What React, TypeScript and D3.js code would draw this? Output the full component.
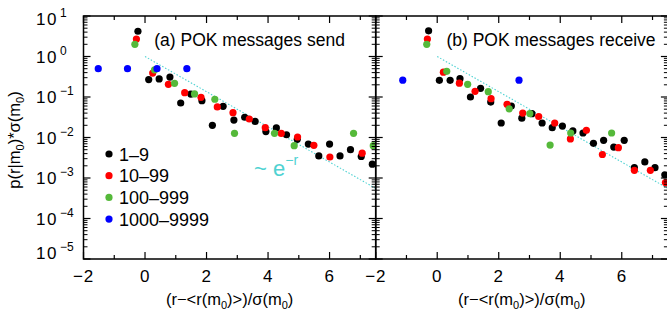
import * as d3 from 'd3';

// (a) POK messages send
const sendBlackR = [-0.23, 0.12, 0.46, 0.81, 1.16, 1.49, 1.85, 2.19, 2.54, 2.89, 3.24, 3.58, 3.93, 4.27, 4.6, 4.95, 5.31, 5.65, 6.0, 6.34, 6.68, 7.03, 7.39];
const sendBlackP = [4.2, 0.27, 0.28, 0.31, 0.071, 0.118, 0.081, 0.02, 0.059, 0.027, 0.0316, 0.025, 0.014, 0.0172, 0.0117, 0.009, 0.0069, 0.0035, 0.0069, 0.0035, 0.005, 0.0034, 0.0022];
const sendRedR = [-0.28, 0.25, 0.76, 1.29, 1.82, 2.35, 2.86, 3.39, 3.91, 4.43, 4.96, 5.49, 6.01, 7.06];
const sendRedP = [2.7, 0.39, 0.205, 0.128, 0.098, 0.057, 0.041, 0.0286, 0.0175, 0.0126, 0.0103, 0.0064, 0.0033, 0.0041];
const sendGreenR = [-0.33, 0.31, 0.96, 1.61, 2.27, 2.91, 4.21, 4.85, 6.78, 7.42];
const sendGreenP = [2.0, 0.47, 0.217, 0.119, 0.088, 0.0127, 0.0127, 0.0063, 0.0127, 0.0063];
const sendBlueR = [-1.52, -0.57, 0.39, 1.36];
const sendBlueP = [0.5, 0.5, 0.5, 0.5];

// (b) POK messages receive
const recvBlackR = [-0.28, 0.07, 0.42, 0.74, 1.08, 1.41, 1.74, 2.08, 2.41, 2.75, 3.08, 3.41, 3.74, 4.07, 4.41, 4.74, 5.08, 5.41, 5.74, 6.08, 6.41, 6.75, 7.08, 7.4];
const recvBlackP = [4.3, 0.258, 0.258, 0.283, 0.1, 0.164, 0.075, 0.0228, 0.06, 0.03, 0.0387, 0.0228, 0.0175, 0.0192, 0.0145, 0.0129, 0.0072, 0.0085, 0.0058, 0.0085, 0.0018, 0.0025, 0.0018, 0.0012];
const recvRedR = [-0.32, 0.2, 0.72, 1.23, 1.75, 2.27, 2.78, 3.3, 3.82, 4.33, 4.85, 5.37, 5.89, 6.41, 6.93, 7.42];
const recvRedP = [2.7, 0.41, 0.22, 0.138, 0.091, 0.066, 0.04, 0.033, 0.0228, 0.0092, 0.015, 0.0038, 0.0056, 0.00155, 0.00155, 0.00077];
const recvGreenR = [-0.34, 0.31, 0.99, 1.66, 2.34, 3.01, 3.67, 4.34, 5.67];
const recvGreenP = [2.0, 0.43, 0.206, 0.135, 0.051, 0.039, 0.0065, 0.0129, 0.0129];
const recvBlueR = [-1.12, 2.66];
const recvBlueP = [0.26, 0.26];

const legendLabels = ['1–9', '10–99', '100–999', '1000–9999'];
const colors = ['#000000', '#ff0000', '#55b93a', '#0000ff'];
const xTickValues = [-2, -1, 0, 1, 2, 3, 4, 5, 6, 7];
const yDecades = [-5, -4, -3, -2, -1, 0, 1];
const fitR = [0, 7.5]; // reference line ~ e^-r

const FONT = "'Liberation Sans', Arial, Helvetica, sans-serif";
const CYAN = '#4fd2d2';
const W = 667, H = 316;
const TOP = 16, BOTTOM = 259;

const y = d3.scaleLog().domain([1e-5, 10]).range([BOTTOM, TOP]);

type Series = { r: number[]; p: number[] };

function Panel({ id, x0, x1, title, series, yLabels }: {
  id: string; x0: number; x1: number; title: string; series: Series[]; yLabels: boolean;
}) {
  const x = d3.scaleLinear().domain([-2, 7.5]).range([x0, x1]);
  const minor: number[] = [];
  yDecades.slice(0, -1).forEach(d => {
    for (let k = 2; k <= 9; k++) minor.push(k * Math.pow(10, d));
  });
  const fit = d3.line<number>().x(r => x(r)).y(r => y(Math.exp(-r)));
  return (
    <g>
      <defs>
        <clipPath id={`clip-${id}`}>
          <rect x={x0} y={TOP} width={x1 - x0} height={BOTTOM - TOP} />
        </clipPath>
      </defs>
      <path d={fit(fitR) ?? ''} fill="none" stroke={CYAN} strokeWidth={1.1} strokeDasharray="1.5,1.8" clipPath={`url(#clip-${id})`} />
      <g clipPath={`url(#clip-${id})`}>
        {series.map((s, i) => s.r.map((r, j) => (
          <circle key={`${i}-${j}`} cx={x(r)} cy={y(s.p[j])} r={3.6} fill={colors[i]} />
        )))}
      </g>
      {/* frame */}
      <rect x={x0} y={TOP} width={x1 - x0} height={BOTTOM - TOP} fill="none" stroke="#000" strokeWidth={1.5} />
      {/* x ticks */}
      {xTickValues.map(v => {
        const len = v % 2 === 0 ? 7 : 4;
        return (
          <g key={`xt${v}`} stroke="#000" strokeWidth={1.2}>
            <line x1={x(v)} x2={x(v)} y1={BOTTOM} y2={BOTTOM - len} />
            <line x1={x(v)} x2={x(v)} y1={TOP} y2={TOP + len} />
          </g>
        );
      })}
      {xTickValues.filter(v => v % 2 === 0).map(v => (
        <text key={`xl${v}`} x={x(v)} y={282} textAnchor="middle" fontSize={17} fontFamily={FONT} letterSpacing={0.8}>
          {v < 0 ? `−${-v}` : v}
        </text>
      ))}
      {/* y ticks */}
      {yDecades.map(d => (
        <g key={`yt${d}`} stroke="#000" strokeWidth={1.2}>
          <line x1={x0} x2={x0 + 7} y1={y(Math.pow(10, d))} y2={y(Math.pow(10, d))} />
          <line x1={x1} x2={x1 - 7} y1={y(Math.pow(10, d))} y2={y(Math.pow(10, d))} />
        </g>
      ))}
      {minor.map((v, i) => (
        <g key={`ym${i}`} stroke="#000" strokeWidth={1}>
          <line x1={x0} x2={x0 + 4} y1={y(v)} y2={y(v)} />
          <line x1={x1} x2={x1 - 4} y1={y(v)} y2={y(v)} />
        </g>
      ))}
      {yLabels && yDecades.map(d => {
        const ty = Math.min(Math.max(y(Math.pow(10, d)), 19), 253) + 6;
        return (
          <g key={`yl${d}`} fontFamily={FONT}>
            <text x={58} y={ty} textAnchor="end" fontSize={17} letterSpacing={1.5}>10</text>
            <text x={60} y={ty - 8} fontSize={12}>{d < 0 ? `−${-d}` : d}</text>
          </g>
        );
      })}
      <text x={x0 + (x1 - x0) / 2} y={305} textAnchor="middle" fontSize={16.5} fontFamily={FONT}>
        (r−&lt;r(m<tspan fontSize={11} dy={4}>0</tspan><tspan dy={-4}>)&gt;)/σ(m</tspan><tspan fontSize={11} dy={4}>0</tspan><tspan dy={-4}>)</tspan>
      </text>
      <text x={x(0.3)} y={46} fontSize={17.5} fontFamily={FONT}>{title}</text>
    </g>
  );
}

export default function App() {
  const sendSeries: Series[] = [
    { r: sendBlackR, p: sendBlackP },
    { r: sendRedR, p: sendRedP },
    { r: sendGreenR, p: sendGreenP },
    { r: sendBlueR, p: sendBlueP },
  ];
  const recvSeries: Series[] = [
    { r: recvBlackR, p: recvBlackP },
    { r: recvRedR, p: recvRedP },
    { r: recvGreenR, p: recvGreenP },
    { r: recvBlueR, p: recvBlueP },
  ];
  return (
    <svg width={W} height={H} style={{ position: 'absolute', left: 0, top: 0, background: '#fff' }}>
      <rect width={W} height={H} fill="#fff" />
      <Panel id="a" x0={83.5} x1={375.7} title="(a) POK messages send" series={sendSeries} yLabels />
      <Panel id="b" x0={375.7} x1={667.9} title="(b) POK messages receive" series={recvSeries} yLabels={false} />
      <text transform="translate(20,140) rotate(-90)" textAnchor="middle" fontSize={16.5} fontFamily={FONT}>
        p(r|m<tspan fontSize={11} dy={4}>0</tspan><tspan dy={-4}>)*σ(m</tspan><tspan fontSize={11} dy={4}>0</tspan><tspan dy={-4}>)</tspan>
      </text>
      {legendLabels.map((l, i) => (
        <g key={l}>
          <circle cx={109} cy={154 + i * 21.7} r={3.6} fill={colors[i]} />
          <text x={119} y={154 + i * 21.7 + 6.5} fontSize={18} fontFamily={FONT}>{l}</text>
        </g>
      ))}
      <text x={254} y={176} fill={CYAN} fontSize={22} fontFamily={FONT}>
        ~ e<tspan fontSize={14} dy={-11}>−r</tspan>
      </text>
    </svg>
  );
}
